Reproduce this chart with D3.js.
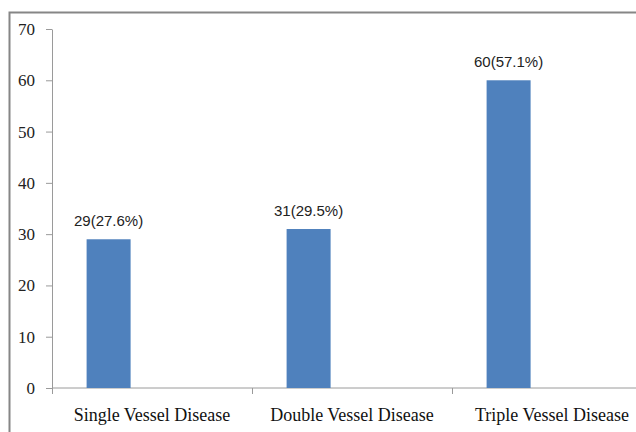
<!DOCTYPE html>
<html>
<head>
<meta charset="utf-8">
<script src="https://cdn.jsdelivr.net/npm/d3@7"></script>
<style>
  html, body { margin: 0; padding: 0; background: #fff; }
  svg { display: block; }
</style>
</head>
<body>
<svg id="chart" width="636" height="432"></svg>
<script>
// Coronary disease extent: patient counts per category
const categories = ["Single Vessel Disease", "Double Vessel Disease", "Triple Vessel Disease"];
const counts = [29, 31, 60];
const shares = ["27.6%", "29.5%", "57.1%"];
const yTicks = [0, 10, 20, 30, 40, 50, 60, 70];

const svg = d3.select("#chart");

// Outer frame of the chart area (only top and left edges fall inside the view)
svg.append("rect")
  .attr("x", 9.5).attr("y", 12.5)
  .attr("width", 800).attr("height", 600)
  .attr("fill", "#fff")
  .attr("stroke", "#868686")
  .attr("stroke-width", 2);

const y = d3.scaleLinear().domain([0, 70]).range([388, 29]);
const x = d3.scaleBand().domain(categories).range([52, 652]).padding(0);
const bw = x.bandwidth();
const barOffset = bw * 0.173;
const barWidth = bw * 0.22;

// Y axis
const yAxis = svg.append("g")
  .attr("transform", "translate(52,0)")
  .call(d3.axisLeft(y).tickValues(yTicks).tickSize(6).tickPadding(11).tickSizeOuter(0));
yAxis.select(".domain").attr("stroke", "#9a9a9a");
yAxis.selectAll(".tick line").attr("stroke", "#9a9a9a");
yAxis.selectAll(".tick text")
  .attr("font-family", "'Liberation Serif', 'Times New Roman', serif")
  .attr("font-size", 17)
  .attr("fill", "#222");

// X axis line with tick marks at category boundaries
svg.append("line")
  .attr("x1", 52).attr("x2", 660)
  .attr("y1", y(0)).attr("y2", y(0))
  .attr("stroke", "#9a9a9a");
svg.selectAll("line.xtick")
  .data(categories)
  .join("line")
  .attr("class", "xtick")
  .attr("x1", d => x(d) + 0.5).attr("x2", d => x(d) + 0.5)
  .attr("y1", y(0)).attr("y2", y(0) + 6)
  .attr("stroke", "#9a9a9a");

// Bars
svg.selectAll("rect.bar")
  .data(categories)
  .join("rect")
  .attr("class", "bar")
  .attr("x", d => x(d) + barOffset)
  .attr("width", barWidth)
  .attr("y", (d, i) => y(counts[i]))
  .attr("height", (d, i) => y(0) - y(counts[i]))
  .attr("fill", "#4F81BD");

// Value labels
svg.selectAll("text.value")
  .data(categories)
  .join("text")
  .attr("class", "value")
  .attr("x", d => x(d) + barOffset + barWidth / 2)
  .attr("y", (d, i) => y(counts[i]) - 13)
  .attr("text-anchor", "middle")
  .attr("font-family", "'Liberation Sans', Arial, sans-serif")
  .attr("font-size", 15)
  .attr("fill", "#222")
  .text((d, i) => `${counts[i]}(${shares[i]})`);

// Category labels
svg.selectAll("text.cat")
  .data(categories)
  .join("text")
  .attr("class", "cat")
  .attr("x", d => x(d) + bw / 2)
  .attr("y", 421)
  .attr("text-anchor", "middle")
  .attr("font-family", "'Liberation Serif', 'Times New Roman', serif")
  .attr("font-size", 18)
  .attr("fill", "#111")
  .text(d => d);
</script>
</body>
</html>
